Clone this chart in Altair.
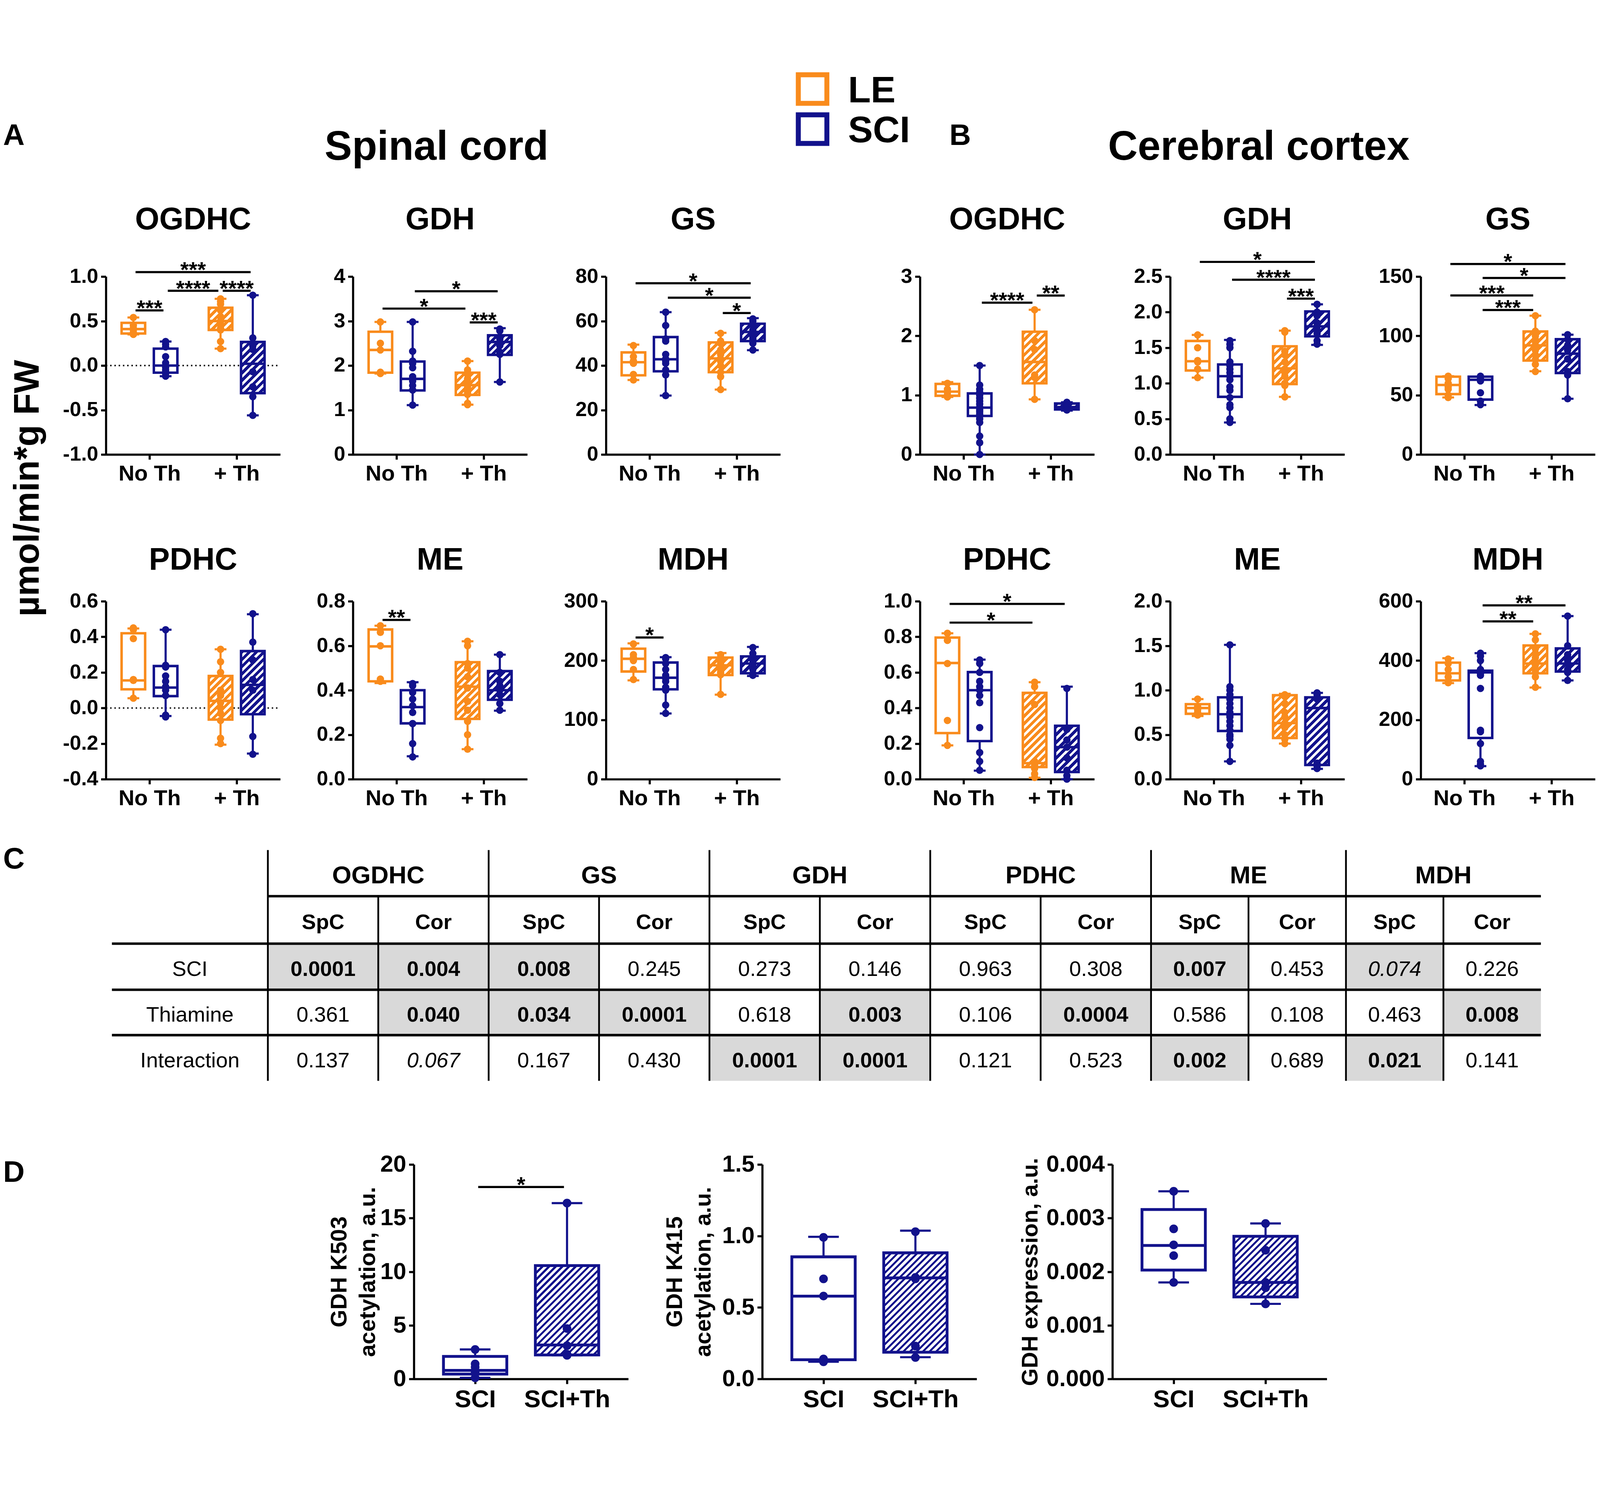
import math
import altair as alt
import pandas as pd

FONT = "Liberation Sans"
ORANGE = "#F98B1C"
NAVY = "#12128C"
SHADE = "#D9D9D9"
WHITE = "#FFFFFF"

GROUPS = ["LE", "SCI"]

# ----------------------------------------------------------------- data
# box statistics: [min, Q1, median, Q3, max]; *_PTS: individual animals
# *_SIG: (from box index, to box index, bar height, label)

# ---- A: spinal cord
SC_OGDHC_PTS = {
    "LE|No Th": [0.54, 0.45, 0.42, 0.40, 0.37, 0.35],
    "SCI|No Th": [0.27, 0.24, 0.21, 0.10, 0.03, -0.02, -0.05, -0.07, -0.09, -0.12],
    "LE|+ Th": [0.75, 0.72, 0.69, 0.62, 0.55, 0.50, 0.47, 0.42, 0.40, 0.27, 0.19],
    "SCI|+ Th": [0.79, 0.31, 0.22, 0.18, -0.07, -0.24, -0.35, -0.56],
}
SC_OGDHC_BOX = {
    "LE|No Th": [0.35, 0.36, 0.41, 0.48, 0.54],
    "SCI|No Th": [-0.12, -0.08, 0.00, 0.19, 0.27],
    "LE|+ Th": [0.19, 0.40, 0.50, 0.65, 0.75],
    "SCI|+ Th": [-0.56, -0.31, 0.02, 0.265, 0.79],
}
SC_OGDHC_SIG = [(0, 1, 0.62, "***"), (1, 2, 0.84, "****"), (2, 3, 0.84, "****"), (0, 3, 1.05, "***")]

SC_GDH_PTS = {
    "LE|No Th": [2.98, 2.50, 2.35, 1.85, 1.82],
    "SCI|No Th": [2.98, 2.32, 2.10, 2.05, 1.95, 1.75, 1.65, 1.55, 1.45, 1.11],
    "LE|+ Th": [2.10, 1.90, 1.80, 1.70, 1.60, 1.55, 1.50, 1.40, 1.35, 1.15, 1.12],
    "SCI|+ Th": [2.82, 2.78, 2.60, 2.50, 2.45, 2.30, 2.25, 1.63],
}
SC_GDH_BOX = {
    "LE|No Th": [1.82, 1.84, 2.35, 2.76, 2.98],
    "SCI|No Th": [1.11, 1.44, 1.70, 2.09, 2.98],
    "LE|+ Th": [1.12, 1.34, 1.56, 1.84, 2.10],
    "SCI|+ Th": [1.63, 2.24, 2.53, 2.68, 2.84],
}
SC_GDH_SIG = [(1, 3, 3.67, "*"), (0, 2, 3.28, "*"), (2, 3, 2.97, "***")]

SC_GS_PTS = {
    "LE|No Th": [49, 44, 42, 41, 36, 33.5],
    "SCI|No Th": [64, 58, 52, 51, 45, 43, 42, 41, 38, 35.8, 26.5],
    "LE|+ Th": [54.5, 51, 50, 47, 45, 43, 42, 40, 37, 35, 29.2],
    "SCI|+ Th": [61, 60, 58, 56, 55, 53, 52, 50, 47],
}
SC_GS_BOX = {
    "LE|No Th": [33.5, 35.6, 41.5, 45.9, 49.4],
    "SCI|No Th": [26.5, 37.4, 42.8, 52.8, 64],
    "LE|+ Th": [29.2, 37.0, 43.2, 50.4, 54.7],
    "SCI|+ Th": [46.9, 51.0, 55.1, 58.8, 61.3],
}
SC_GS_SIG = [(0, 3, 77.0, "*"), (1, 3, 70.5, "*"), (2, 3, 63.6, "*")]

SC_PDHC_PTS = {
    "LE|No Th": [0.45, 0.44, 0.39, 0.16, 0.155, 0.055],
    "SCI|No Th": [0.44, 0.24, 0.235, 0.23, 0.18, 0.15, 0.12, 0.10, 0.07, -0.04, -0.05],
    "LE|+ Th": [0.33, 0.26, 0.20, 0.10, 0.07, 0.03, 0.0, -0.03, -0.07, -0.17, -0.20],
    "SCI|+ Th": [0.53, 0.37, 0.27, 0.16, 0.10, -0.16, -0.26],
}
SC_PDHC_BOX = {
    "LE|No Th": [0.055, 0.105, 0.155, 0.42, 0.447],
    "SCI|No Th": [-0.045, 0.067, 0.115, 0.236, 0.44],
    "LE|+ Th": [-0.206, -0.065, 0.04, 0.18, 0.33],
    "SCI|+ Th": [-0.256, -0.035, 0.13, 0.32, 0.527],
}
SC_PDHC_SIG = []

SC_ME_PTS = {
    "LE|No Th": [0.69, 0.66, 0.60, 0.45, 0.44],
    "SCI|No Th": [0.43, 0.42, 0.39, 0.36, 0.33, 0.30, 0.25, 0.25, 0.16, 0.10],
    "LE|+ Th": [0.62, 0.60, 0.52, 0.50, 0.46, 0.41, 0.35, 0.31, 0.26, 0.20, 0.135],
    "SCI|+ Th": [0.56, 0.48, 0.44, 0.42, 0.40, 0.38, 0.34, 0.31],
}
SC_ME_BOX = {
    "LE|No Th": [0.432, 0.44, 0.597, 0.673, 0.69],
    "SCI|No Th": [0.103, 0.251, 0.324, 0.40, 0.436],
    "LE|+ Th": [0.135, 0.271, 0.416, 0.526, 0.62],
    "SCI|+ Th": [0.308, 0.357, 0.40, 0.486, 0.56],
}
SC_ME_SIG = [(0, 1, 0.716, "**")]

SC_MDH_PTS = {
    "LE|No Th": [228, 210, 205, 200, 185, 168],
    "SCI|No Th": [205, 203, 195, 185, 175, 170, 165, 155, 150, 125, 111],
    "LE|+ Th": [210, 205, 200, 196, 192, 190, 185, 180, 176, 143],
    "SCI|+ Th": [222, 212, 205, 200, 195, 190, 185, 178, 175],
}
SC_MDH_BOX = {
    "LE|No Th": [166.6, 181.6, 203, 220, 229],
    "SCI|No Th": [110.8, 151.5, 171, 196.7, 205.7],
    "LE|+ Th": [142.5, 175.6, 192, 205, 212.7],
    "SCI|+ Th": [174, 178.6, 195, 207, 223],
}
SC_MDH_SIG = [(0, 1, 238.9, "*")]

# ---- B: cerebral cortex
CC_OGDHC_PTS = {
    "LE|No Th": [1.20, 1.10, 1.05, 1.00, 0.97],
    "SCI|No Th": [1.50, 1.17, 1.10, 1.05, 1.00, 0.95, 0.90, 0.85, 0.80, 0.75, 0.72, 0.68,
                  0.65, 0.60, 0.54, 0.31, 0.20, 0.0],
    "LE|+ Th": [2.44, 1.92, 1.77, 1.34, 1.30, 0.93],
    "SCI|+ Th": [0.88, 0.85, 0.82, 0.80, 0.78, 0.75],
}
CC_OGDHC_BOX = {
    "LE|No Th": [0.97, 0.99, 1.06, 1.19, 1.22],
    "SCI|No Th": [0.0, 0.65, 0.79, 1.03, 1.50],
    "LE|+ Th": [0.93, 1.20, 1.56, 2.07, 2.44],
    "SCI|+ Th": [0.74, 0.76, 0.80, 0.86, 0.88],
}
CC_OGDHC_SIG = [(1, 2, 2.56, "****"), (2, 3, 2.68, "**")]

CC_GDH_PTS = {
    "LE|No Th": [1.68, 1.50, 1.32, 1.30, 1.20, 1.08],
    "SCI|No Th": [1.60, 1.55, 1.50, 1.30, 1.25, 1.20, 1.15, 1.10, 1.05, 0.95, 0.90, 0.80,
                  0.70, 0.66, 0.50, 0.45],
    "LE|+ Th": [1.74, 1.72, 1.45, 1.40, 1.30, 1.20, 1.15, 1.10, 1.00, 0.97, 0.81],
    "SCI|+ Th": [2.11, 2.00, 1.95, 1.85, 1.80, 1.75, 1.70, 1.60, 1.55],
}
CC_GDH_BOX = {
    "LE|No Th": [1.08, 1.18, 1.31, 1.595, 1.68],
    "SCI|No Th": [0.45, 0.81, 1.10, 1.265, 1.61],
    "LE|+ Th": [0.81, 0.99, 1.21, 1.52, 1.74],
    "SCI|+ Th": [1.54, 1.66, 1.80, 2.01, 2.11],
}
CC_GDH_SIG = [(0, 3, 2.706, "*"), (1, 3, 2.456, "****"), (2, 3, 2.19, "***")]

CC_GS_PTS = {
    "LE|No Th": [66, 64, 60, 57, 55, 50, 48],
    "SCI|No Th": [66, 64, 62, 52, 45, 42],
    "LE|+ Th": [117, 104, 100, 97, 95, 92, 88, 84, 80, 76, 70],
    "SCI|+ Th": [101, 97, 92, 88, 80.5, 70, 67, 47],
}
CC_GS_BOX = {
    "LE|No Th": [48.1, 50.9, 58.6, 65.6, 66],
    "SCI|No Th": [41.7, 46.3, 63, 65.6, 65.6],
    "LE|+ Th": [70.2, 79.2, 92, 103.7, 117],
    "SCI|+ Th": [47, 68.7, 85, 97.2, 101],
}
CC_GS_SIG = [(0, 3, 160.6, "*"), (1, 3, 148.8, "*"), (0, 2, 134.1, "***"), (1, 2, 121.8, "***")]

CC_PDHC_PTS = {
    "LE|No Th": [0.82, 0.78, 0.65, 0.33, 0.19],
    "SCI|No Th": [0.67, 0.65, 0.60, 0.55, 0.52, 0.50, 0.47, 0.43, 0.29, 0.15, 0.10, 0.05],
    "LE|+ Th": [0.545, 0.52, 0.42, 0.10, 0.08, 0.06, 0.03, 0.01],
    "SCI|+ Th": [0.51, 0.28, 0.22, 0.18, 0.12, 0.05, 0.02, 0.0],
}
CC_PDHC_BOX = {
    "LE|No Th": [0.19, 0.259, 0.653, 0.796, 0.82],
    "SCI|No Th": [0.048, 0.214, 0.50, 0.602, 0.672],
    "LE|+ Th": [0.008, 0.068, 0.09, 0.485, 0.545],
    "SCI|+ Th": [0.0, 0.04, 0.18, 0.30, 0.52],
}
CC_PDHC_SIG = [(0, 3, 0.985, "*"), (0, 2, 0.88, "*")]

CC_ME_PTS = {
    "LE|No Th": [0.90, 0.82, 0.80, 0.78, 0.75, 0.72],
    "SCI|No Th": [1.51, 1.04, 1.00, 0.95, 0.90, 0.85, 0.80, 0.75, 0.72, 0.70, 0.65, 0.60,
                  0.55, 0.50, 0.48, 0.45, 0.38, 0.20],
    "LE|+ Th": [0.95, 0.93, 0.85, 0.75, 0.70, 0.63, 0.58, 0.50, 0.45, 0.40],
    "SCI|+ Th": [0.97, 0.95, 0.92, 0.90, 0.18, 0.15, 0.12],
}
CC_ME_BOX = {
    "LE|No Th": [0.71, 0.735, 0.80, 0.843, 0.90],
    "SCI|No Th": [0.20, 0.542, 0.73, 0.92, 1.51],
    "LE|+ Th": [0.40, 0.462, 0.63, 0.944, 0.96],
    "SCI|+ Th": [0.116, 0.16, 0.80, 0.92, 0.97],
}
CC_ME_SIG = []

CC_MDH_PTS = {
    "LE|No Th": [405, 390, 370, 345, 330, 325],
    "SCI|No Th": [425, 415, 400, 370, 365, 362, 358, 355, 350, 306, 165, 160, 120, 60, 50, 45],
    "LE|+ Th": [490, 470, 440, 425, 410, 395, 385, 370, 360, 345, 310],
    "SCI|+ Th": [550, 450, 420, 410, 400, 390, 370, 360, 333],
}
CC_MDH_BOX = {
    "LE|No Th": [324, 333, 357, 393, 408],
    "SCI|No Th": [44, 139, 360, 366, 425],
    "LE|+ Th": [309, 357, 390, 451, 490],
    "SCI|+ Th": [333, 363, 390, 441, 550],
}
CC_MDH_SIG = [(1, 3, 586, "**"), (1, 2, 532, "**")]

# ---- D: GDH acetylation / expression
D_K503_PTS = {"SCI|SCI": [2.75, 1.4, 1.1, 0.6, 0.1], "SCI|SCI+Th": [16.4, 4.7, 3.1, 2.3, 2.2]}
D_K503_BOX = {"SCI|SCI": [0.1, 0.45, 0.8, 2.1, 2.75], "SCI|SCI+Th": [2.2, 2.24, 3.17, 10.57, 16.4]}
D_K503_SIG = [(0, 1, 17.9, "*")]

D_K415_PTS = {"SCI|SCI": [0.99, 0.70, 0.58, 0.14, 0.12], "SCI|SCI+Th": [1.03, 0.71, 0.70, 0.23, 0.15]}
D_K415_BOX = {"SCI|SCI": [0.12, 0.134, 0.579, 0.854, 0.994], "SCI|SCI+Th": [0.152, 0.187, 0.707, 0.882, 1.037]}

D_EXPR_PTS = {"SCI|SCI": [0.0035, 0.0028, 0.0025, 0.0023, 0.0018],
              "SCI|SCI+Th": [0.0029, 0.0024, 0.0018, 0.0017, 0.0014]}
D_EXPR_BOX = {"SCI|SCI": [0.0018, 0.00203, 0.00249, 0.00316, 0.0035],
              "SCI|SCI+Th": [0.0014, 0.00153, 0.0018, 0.00266, 0.0029]}

# ---- C: two-way ANOVA p-values
TAB_ENZYMES = ["OGDHC", "GS", "GDH", "PDHC", "ME", "MDH"]
TAB_TISSUES = ["SpC", "Cor"]
TAB_FACTORS = ["SCI", "Thiamine", "Interaction"]
TAB_P_SCI = ["0.0001", "0.004", "0.008", "0.245", "0.273", "0.146", "0.963", "0.308", "0.007", "0.453", "0.074", "0.226"]
TAB_P_THIAMINE = ["0.361", "0.040", "0.034", "0.0001", "0.618", "0.003", "0.106", "0.0004", "0.586", "0.108", "0.463", "0.008"]
TAB_P_INTERACTION = ["0.137", "0.067", "0.167", "0.430", "0.0001", "0.0001", "0.121", "0.523", "0.002", "0.689", "0.021", "0.141"]
# b = bold, i = italic, s = shaded cell
TAB_MARK_SCI = ["bs", "bs", "bs", "", "", "", "", "", "bs", "", "is", ""]
TAB_MARK_THIAMINE = ["", "bs", "bs", "bs", "", "bs", "", "bs", "", "", "", "bs"]
TAB_MARK_INTERACTION = ["", "i", "", "", "bs", "bs", "", "", "bs", "", "bs", ""]

# ----------------------------------------------------------------- layout (one view, pixels)
VW, VH = 4497, 3785
AB_LEFT = [290, 987, 1701, 2587, 3293, 4000]
ROW1 = (578, 1080)   # plot top, bottom
ROW2 = (1494, 1996)
D_LEFT = [1159, 2142, 3130]
ROWD = (3083, 3688)

COLOR_SCALE = alt.Scale(domain=GROUPS, range=[ORANGE, NAVY])
ONE = pd.DataFrame({"k": [0]})
MINUS_FIX = "replace(datum.label, '\u2212', '-')"

STYLE_AB = dict(W=492, xdom=4.0, pos={"No Th": 1.0, "+ Th": 3.0},
                off={"LE": -0.37, "SCI": 0.37}, hw=0.27, cap=0.135, hatched=("+ Th",),
                xticks=[1, 3], xexpr="datum.value == 1 ? 'No Th' : '+ Th'",
                xfs=62, yfs=58, ps=430, bw=7, ww=6, period=15, frac=0.55)
STYLE_D = dict(W=605, xdom=3.5, pos={"SCI": 1.0, "SCI+Th": 2.5},
               off={"SCI": 0.0}, hw=0.517, cap=0.25, hatched=("SCI+Th",),
               xticks=[1, 2.5], xexpr="datum.value == 1 ? 'SCI' : 'SCI+Th'",
               xfs=70, yfs=66, ps=600, bw=8, ww=6, period=13, frac=0.42)


def hatch(color, w, h, period, frac):
    """Diagonal stripes as a linear gradient in the box's bounding-box units."""
    n = max(1, int(round((w + h) / (period * math.sqrt(2)))))
    den = w * w + h * h
    gx = (w + h) * w / den
    gy = (w + h) * h / den
    stops = []
    for k in range(n):
        a, b, c = k / n, (k + frac) / n, (k + 1) / n
        stops += [{"offset": a, "color": color}, {"offset": b, "color": color},
                  {"offset": b, "color": WHITE}, {"offset": c, "color": WHITE}]
    return {"gradient": "linear", "x1": 0, "y1": 0, "x2": gx, "y2": gy, "stops": stops}


def panel(pts, box, sig, ydom, yvals, yfmt, st, left, rows_tb, title=None, title_dist=0,
          zero=False, ytitle=None, ytitle_pad=0):
    W, xdom = st["W"], st["xdom"]
    top, bottom = rows_tb
    H = bottom - top
    sx = alt.Scale(domain=[0, xdom], range=[left, left + W], nice=False, zero=False)
    sy = alt.Scale(domain=list(ydom), range=[bottom, top], nice=False, zero=False)
    ppx = W / xdom
    ppy = H / (ydom[1] - ydom[0])

    xaxis = alt.Axis(values=st["xticks"], labelExpr=st["xexpr"], title=None, orient="bottom",
                     offset=bottom - VH, labelFontSize=st["xfs"], labelPadding=10,
                     labelLimit=0, labelFlush=False, labelOverlap=False)
    ykw = dict(values=list(yvals), format=yfmt, labelExpr=MINUS_FIX, orient="left",
               offset=-left, labelFontSize=st["yfs"], labelPadding=8, labelLimit=0,
               labelFlush=False, labelOverlap=False)
    if ytitle:
        ykw.update(title=ytitle, titleFontSize=64, titlePadding=ytitle_pad,
                   titleLineHeight=80, titleLimit=0)
    else:
        ykw["title"] = None
    yaxis = alt.Axis(**ykw)

    def X(f):
        return alt.X(f, type="quantitative", scale=sx, axis=xaxis)

    def Y(f):
        return alt.Y(f, type="quantitative", scale=sy, axis=yaxis)

    col = alt.Color("grp:N", scale=COLOR_SCALE, legend=None)
    stk = alt.Stroke("grp:N", scale=COLOR_SCALE, legend=None)

    keys = list(box.keys())
    centers = {}
    rows = []
    for k in keys:
        g, t = k.split("|")
        xc = st["pos"][t] + st["off"][g]
        centers[k] = xc
        lo, q1, med, q3, hi = box[k]
        rows.append(dict(grp=g, treat=t, xc=xc, x1=xc - st["hw"], x2=xc + st["hw"],
                         c1=xc - st["cap"], c2=xc + st["cap"],
                         lo=lo, q1=q1, med=med, q3=q3, hi=hi))
    bdf = pd.DataFrame(rows)
    pdf = pd.DataFrame([dict(grp=k.split("|")[0], xc=centers[k], v=v)
                        for k in keys for v in pts[k]])

    layers = []
    if zero:
        layers.append(
            alt.Chart(pd.DataFrame({"z": [0.0]}))
            .mark_rule(color="black", strokeWidth=4, strokeDash=[4, 8])
            .encode(x=alt.value(left), x2=alt.value(left + W), y=Y("z"))
        )
    base = alt.Chart(bdf)
    layers.append(base.mark_rule(strokeWidth=st["ww"]).encode(
        x=X("xc"), y=Y("lo"), y2="hi", color=col))
    for r in rows:
        if r["treat"] in st["hatched"]:
            w = 2 * st["hw"] * ppx
            h = max(2.0, (r["q3"] - r["q1"]) * ppy)
            c = ORANGE if r["grp"] == "LE" else NAVY
            fill = hatch(c, w, h, st["period"], st["frac"])
        else:
            fill = WHITE
        layers.append(alt.Chart(pd.DataFrame([r])).mark_rect(
            fill=fill, strokeWidth=st["bw"]).encode(
            x=X("x1"), x2="x2", y=Y("q1"), y2="q3", stroke=stk))
    layers.append(base.mark_rule(strokeWidth=st["bw"]).encode(
        x=X("x1"), x2="x2", y=Y("med"), color=col))
    layers.append(base.mark_rule(strokeWidth=st["ww"]).encode(
        x=X("c1"), x2="c2", y=Y("hi"), color=col))
    layers.append(base.mark_rule(strokeWidth=st["ww"]).encode(
        x=X("c1"), x2="c2", y=Y("lo"), color=col))
    layers.append(alt.Chart(pdf).mark_circle(size=st["ps"], opacity=1).encode(
        x=X("xc"), y=Y("v"), color=col))
    if sig:
        srows = []
        for a, b, y, lab in sig:
            x1 = centers[keys[a]] + 0.05
            x2 = centers[keys[b]] - 0.05
            srows.append(dict(sx1=x1, sx2=x2, sm=(x1 + x2) / 2, sy=y, lab=lab))
        sdf = pd.DataFrame(srows)
        layers.append(alt.Chart(sdf).mark_rule(color="black", strokeWidth=6).encode(
            x=X("sx1"), x2="sx2", y=Y("sy")))
        layers.append(alt.Chart(sdf).mark_text(
            font=FONT, fontSize=62, fontWeight="bold", color="black",
            align="center", baseline="alphabetic", dy=14).encode(
            x=X("sm"), y=Y("sy"), text="lab:N"))
    if title:
        layers.append(alt.Chart(ONE).mark_text(
            text=title, font=FONT, fontSize=88, fontWeight="bold", color="black",
            align="center", baseline="alphabetic").encode(
            x=alt.value(left + W / 2), y=alt.value(top - title_dist)))
    return alt.layer(*layers)


def note(text, x, y, size, align="left", angle=0, baseline="alphabetic"):
    return alt.Chart(ONE).mark_text(
        text=text, font=FONT, fontSize=size, fontWeight="bold", color="black",
        align=align, baseline=baseline, angle=angle).encode(
        x=alt.value(x), y=alt.value(y))


def table_chart(left, top):
    W, H = 4032, 651
    colw = [440] + [311.5] * 8 + [275] * 4
    edges = [0.0]
    for w in colw:
        edges.append(edges[-1] + w)
    redges = [0, 130, 264, 394, 522, 651]
    sx = alt.Scale(domain=[0, W], range=[left, left + W], nice=False, zero=False)
    sy = alt.Scale(domain=[0, H], range=[top, top + H], nice=False, zero=False)

    def X(f):
        return alt.X(f, type="quantitative", scale=sx, axis=None)

    def Y(f):
        return alt.Y(f, type="quantitative", scale=sy, axis=None)

    cells = []
    prow = [TAB_P_SCI, TAB_P_THIAMINE, TAB_P_INTERACTION]
    mrow = [TAB_MARK_SCI, TAB_MARK_THIAMINE, TAB_MARK_INTERACTION]
    for r in range(3):
        for c in range(12):
            m = mrow[r][c]
            cells.append(dict(x0=edges[c + 1], x1=edges[c + 2],
                              x=(edges[c + 1] + edges[c + 2]) / 2,
                              y0=redges[r + 2], y1=redges[r + 3],
                              y=(redges[r + 2] + redges[r + 3]) / 2,
                              txt=prow[r][c], b="b" in m, i="i" in m, s="s" in m))
    cdf = pd.DataFrame(cells)
    heads = pd.DataFrame([dict(x=(edges[1 + 2 * g] + edges[3 + 2 * g]) / 2, y=65, txt=e)
                          for g, e in enumerate(TAB_ENZYMES)])
    subs = pd.DataFrame([dict(x=(edges[c + 1] + edges[c + 2]) / 2, y=197,
                              txt=TAB_TISSUES[c % 2]) for c in range(12)])
    rlab = pd.DataFrame([dict(x=edges[1] / 2, y=(redges[r + 2] + redges[r + 3]) / 2, txt=f)
                         for r, f in enumerate(TAB_FACTORS)])
    hl = pd.DataFrame([dict(a=edges[1], b=W, y=130), dict(a=0, b=W, y=264),
                       dict(a=0, b=W, y=394), dict(a=0, b=W, y=522)])
    vl = pd.DataFrame([dict(x=edges[k], a=0, b=H) for k in (1, 3, 5, 7, 9, 11)] +
                      [dict(x=edges[k], a=130, b=H) for k in (2, 4, 6, 8, 10, 12)])

    def txt(df, size, weight="normal", style="normal"):
        return alt.Chart(df).mark_text(font=FONT, fontSize=size, fontWeight=weight,
                                       fontStyle=style, color="black", align="center",
                                       baseline="middle", dy=8).encode(
            x=X("x"), y=Y("y"), text="txt:N")

    return alt.layer(
        alt.Chart(cdf[cdf.s]).mark_rect(fill=SHADE).encode(x=X("x0"), x2="x1", y=Y("y0"), y2="y1"),
        alt.Chart(hl).mark_rule(color="black", strokeWidth=7).encode(x=X("a"), x2="b", y=Y("y")),
        alt.Chart(vl).mark_rule(color="black", strokeWidth=5).encode(x=X("x"), y=Y("a"), y2="b"),
        txt(heads, 70, "bold"),
        txt(subs, 60, "bold"),
        txt(rlab, 60),
        txt(cdf[~cdf.b & ~cdf.i], 60),
        txt(cdf[cdf.b], 60, "bold"),
        txt(cdf[cdf.i], 60, "normal", "italic"),
    )


# ----------------------------------------------------------------- panels
T1, T2 = 133, 89
f1 = ".1f"
S = STYLE_AB
L = AB_LEFT
panels = [
    panel(SC_OGDHC_PTS, SC_OGDHC_BOX, SC_OGDHC_SIG, (-1, 1), [-1, -0.5, 0, 0.5, 1], f1, S, L[0], ROW1, "OGDHC", T1, zero=True),
    panel(SC_GDH_PTS, SC_GDH_BOX, SC_GDH_SIG, (0, 4), [0, 1, 2, 3, 4], "d", S, L[1], ROW1, "GDH", T1),
    panel(SC_GS_PTS, SC_GS_BOX, SC_GS_SIG, (0, 80), [0, 20, 40, 60, 80], "d", S, L[2], ROW1, "GS", T1),
    panel(CC_OGDHC_PTS, CC_OGDHC_BOX, CC_OGDHC_SIG, (0, 3), [0, 1, 2, 3], "d", S, L[3], ROW1, "OGDHC", T1),
    panel(CC_GDH_PTS, CC_GDH_BOX, CC_GDH_SIG, (0, 2.5), [0, 0.5, 1, 1.5, 2, 2.5], f1, S, L[4], ROW1, "GDH", T1),
    panel(CC_GS_PTS, CC_GS_BOX, CC_GS_SIG, (0, 150), [0, 50, 100, 150], "d", S, L[5], ROW1, "GS", T1),
    panel(SC_PDHC_PTS, SC_PDHC_BOX, SC_PDHC_SIG, (-0.4, 0.6), [-0.4, -0.2, 0, 0.2, 0.4, 0.6], f1, S, L[0], ROW2, "PDHC", T2, zero=True),
    panel(SC_ME_PTS, SC_ME_BOX, SC_ME_SIG, (0, 0.8), [0, 0.2, 0.4, 0.6, 0.8], f1, S, L[1], ROW2, "ME", T2),
    panel(SC_MDH_PTS, SC_MDH_BOX, SC_MDH_SIG, (0, 300), [0, 100, 200, 300], "d", S, L[2], ROW2, "MDH", T2),
    panel(CC_PDHC_PTS, CC_PDHC_BOX, CC_PDHC_SIG, (0, 1), [0, 0.2, 0.4, 0.6, 0.8, 1.0], f1, S, L[3], ROW2, "PDHC", T2),
    panel(CC_ME_PTS, CC_ME_BOX, CC_ME_SIG, (0, 2), [0, 0.5, 1, 1.5, 2], f1, S, L[4], ROW2, "ME", T2),
    panel(CC_MDH_PTS, CC_MDH_BOX, CC_MDH_SIG, (0, 600), [0, 200, 400, 600], "d", S, L[5], ROW2, "MDH", T2),
    panel(D_K503_PTS, D_K503_BOX, D_K503_SIG, (0, 20), [0, 5, 10, 15, 20], "d", STYLE_D, D_LEFT[0], ROWD,
          ytitle=["GDH K503", "acetylation, a.u."], ytitle_pad=2),
    panel(D_K415_PTS, D_K415_BOX, [], (0, 1.5), [0, 0.5, 1.0, 1.5], f1, STYLE_D, D_LEFT[1], ROWD,
          ytitle=["GDH K415", "acetylation, a.u."], ytitle_pad=20),
    panel(D_EXPR_PTS, D_EXPR_BOX, [], (0, 0.004), [0, 0.001, 0.002, 0.003, 0.004], ".3f", STYLE_D, D_LEFT[2], ROWD,
          ytitle="GDH expression, a.u.", ytitle_pad=12),
]

# legend drawn from the group list: hollow squares + labels
LEGEND_DF = pd.DataFrame({"grp": GROUPS, "slot": [0, 1]})
LEG_Y = alt.Y("slot:Q", scale=alt.Scale(domain=[0, 1], range=[49, 162]), axis=None)
legend = alt.layer(
    alt.Chart(LEGEND_DF).mark_point(
        shape="square", filled=False, size=6500, strokeWidth=14, opacity=1).encode(
        x=alt.value(2284), y=LEG_Y,
        stroke=alt.Stroke("grp:N", scale=COLOR_SCALE, legend=None)),
    alt.Chart(LEGEND_DF).mark_text(
        font=FONT, fontSize=105, fontWeight="bold", color="black", align="left",
        baseline="alphabetic", dy=37).encode(x=alt.value(2384), y=LEG_Y, text="grp:N"),
)

notes = alt.layer(
    note("A", 0, 207, 84),
    note("Spinal cord", 1223, 249, 116, align="center"),
    note("B", 2670, 207, 84),
    note("Cerebral cortex", 3543, 249, 116, align="center"),
    note("\u00b5mol/min*g FW", 70, 1175, 100, align="center", angle=270, baseline="middle"),
    note("C", 0, 2248, 84),
    note("D", 0, 3132, 84),
)

chart = alt.layer(
    notes, legend, table_chart(307, 2196), *panels
).resolve_scale(x="independent", y="independent").properties(
    width=VW, height=VH, padding=0, autosize=alt.AutoSizeParams(type="none")
).configure_view(stroke=None).configure_axis(
    domainColor="black", tickColor="black", labelColor="black", titleColor="black",
    labelFont=FONT, titleFont=FONT, labelFontWeight="bold", titleFontWeight="bold",
    grid=False, domainWidth=6, tickWidth=6, tickSize=14)

chart.save("out.html", embed_options={"renderer": "svg", "actions": False})
